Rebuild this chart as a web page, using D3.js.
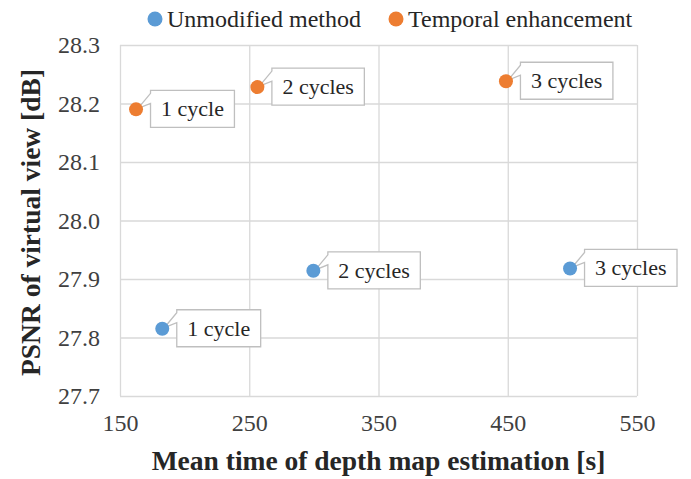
<!DOCTYPE html>
<html>
<head>
<meta charset="utf-8">
<script src="https://cdn.jsdelivr.net/npm/d3@7"></script>
<style>
  html, body { margin: 0; padding: 0; background: #ffffff; }
  svg { display: block; }
</style>
</head>
<body>
<svg id="chart" width="691" height="479"></svg>
<script>
// ---- data ----
const seriesNames = ["Unmodified method", "Temporal enhancement"];
const seriesColors = ["#5b9bd5", "#ed7d31"];
const pointLabels = ["1 cycle", "2 cycles", "3 cycles"];
const unmodifiedTime = [182.7, 299.6, 498.2];
const unmodifiedPSNR = [27.815, 27.914, 27.918];
const temporalTime = [162.4, 256.3, 448.6];
const temporalPSNR = [28.190, 28.228, 28.238];
const xTickValues = [150, 250, 350, 450, 550];
const yTickValues = [27.7, 27.8, 27.9, 28.0, 28.1, 28.2, 28.3];
const xTitle = "Mean time of depth map estimation [s]";
const yTitle = "PSNR of virtual view [dB]";

const series = [
  { name: seriesNames[0], color: seriesColors[0], xs: unmodifiedTime, ys: unmodifiedPSNR },
  { name: seriesNames[1], color: seriesColors[1], xs: temporalTime, ys: temporalPSNR }
];

// ---- layout ----
const W = 691, H = 479;
const margin = { left: 120, top: 45, right: 54, bottom: 83 };
const iw = W - margin.left - margin.right;
const ih = H - margin.top - margin.bottom;
const FONT = "'Liberation Serif', 'Times New Roman', serif";

const svg = d3.select("#chart");
svg.append("rect").attr("width", W).attr("height", H).attr("fill", "#fff");

const g = svg.append("g").attr("transform", `translate(${margin.left},${margin.top})`);

const x = d3.scaleLinear().domain([150, 550]).range([0, iw]);
const y = d3.scaleLinear().domain([27.7, 28.3]).range([ih, 0]);

// axes with gridlines
const xAxis = g.append("g").attr("transform", `translate(0,${ih})`)
  .call(d3.axisBottom(x).tickValues(xTickValues).tickSize(-ih).tickPadding(18).tickFormat(d3.format("d")));
const yAxis = g.append("g")
  .call(d3.axisLeft(y).tickValues(yTickValues).tickSize(-iw).tickPadding(20).tickFormat(d3.format(".1f")));

[xAxis, yAxis].forEach(a => {
  a.select(".domain").remove();
  a.selectAll(".tick line").attr("stroke", "#d9d9d9").attr("stroke-width", 1.3);
  a.selectAll(".tick text").attr("fill", "#404040").style("font-family", FONT).style("font-size", "24px");
});

// axis titles
svg.append("text")
  .attr("x", margin.left + iw / 2).attr("y", 470)
  .attr("text-anchor", "middle")
  .style("font-family", FONT).style("font-size", "27.5px").style("font-weight", "bold")
  .attr("fill", "#262626")
  .text(xTitle);

svg.append("text")
  .attr("transform", `translate(40,${margin.top + ih / 2 + 2}) rotate(-90)`)
  .attr("text-anchor", "middle")
  .style("font-family", FONT).style("font-size", "27.5px").style("font-weight", "bold")
  .attr("fill", "#262626")
  .text(yTitle);

// data labels with callouts
const labelLayer = g.append("g");
const pointLayer = g.append("g");

series.forEach(s => {
  s.xs.forEach((xv, i) => {
    const cx = x(xv), cy = y(s.ys[i]);
    const lg = labelLayer.append("g");
    const boxLeft = cx + 14.5, boxTop = cy - 19, boxH = 37;
    const shape = lg.append("path");
    const t = lg.append("text")
      .attr("x", boxLeft + 10.5).attr("y", boxTop + 26)
      .style("font-family", FONT).style("font-size", "22px")
      .attr("fill", "#262626")
      .text(pointLabels[i]);
    const bw = t.node().getComputedTextLength() + 21;
    const p = d3.path();
    p.moveTo(boxLeft, boxTop);
    p.lineTo(boxLeft + bw, boxTop);
    p.lineTo(boxLeft + bw, boxTop + boxH);
    p.lineTo(boxLeft, boxTop + boxH);
    p.lineTo(boxLeft, boxTop + 13);
    p.lineTo(cx + 2, cy - 1);
    p.lineTo(boxLeft, boxTop + 3);
    p.closePath();
    shape.attr("d", p.toString())
      .attr("fill", "#fff").attr("stroke", "#bfbfbf").attr("stroke-width", 1.3)
      .attr("stroke-linejoin", "miter");

    pointLayer.append("circle")
      .attr("cx", cx).attr("cy", cy).attr("r", 7)
      .attr("fill", s.color);
  });
});

// legend
const legend = svg.append("g");
const legendX = [155, 396];
series.forEach((s, i) => {
  legend.append("circle").attr("cx", legendX[i]).attr("cy", 19).attr("r", 7.5).attr("fill", s.color);
  legend.append("text")
    .attr("x", legendX[i] + 12).attr("y", 27)
    .style("font-family", FONT).style("font-size", "24px")
    .attr("fill", "#262626")
    .text(s.name);
});
</script>
</body>
</html>
